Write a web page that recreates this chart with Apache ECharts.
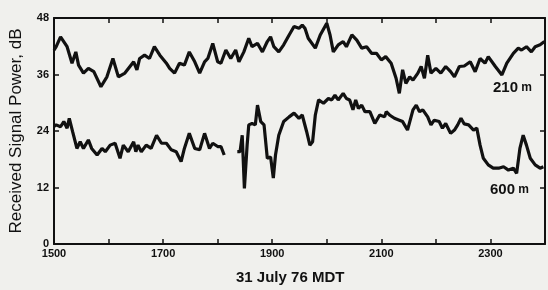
<!DOCTYPE html>
<html><head><meta charset="utf-8">
<script src="https://cdn.jsdelivr.net/npm/echarts@6/dist/echarts.min.js"></script>
<style>html,body{margin:0;padding:0;background:#f0f0ed;}#c{width:548px;height:290px;}</style>
</head><body><div id="c"></div>
<script>
// time in decimal hours (15 = 1500 MDT), values in dB
var t210 = [15.00,15.04,15.12,15.24,15.33,15.40,15.45,15.54,15.63,15.73,15.86,15.97,16.08,16.18,16.30,16.46,16.52,16.57,16.66,16.75,16.84,16.94,17.06,17.12,17.21,17.30,17.39,17.48,17.58,17.67,17.76,17.82,17.91,18.00,18.06,18.15,18.24,18.33,18.39,18.48,18.57,18.63,18.73,18.82,18.91,18.97,19.03,19.12,19.21,19.31,19.40,19.49,19.55,19.60,19.66,19.79,19.88,20.00,20.06,20.12,20.21,20.30,20.36,20.46,20.55,20.64,20.73,20.82,20.91,21.00,21.08,21.18,21.27,21.33,21.39,21.45,21.52,21.58,21.67,21.73,21.79,21.85,21.91,22.00,22.09,22.18,22.27,22.34,22.43,22.52,22.63,22.72,22.81,22.90,22.96,23.09,23.21,23.30,23.42,23.51,23.57,23.66,23.75,23.82,23.91,23.99];
var p210 = [41.2,41.9,44.0,41.9,38.4,40.8,38.0,36.3,37.3,36.6,33.4,35.5,39.4,35.5,36.3,38.7,37.0,39.4,40.1,39.4,41.9,40.1,38.4,37.3,36.3,38.4,38.0,40.8,38.7,36.3,38.7,39.4,42.6,38.7,38.4,41.2,39.4,41.2,38.7,40.8,43.7,41.9,42.6,40.8,43.0,44.0,41.9,40.8,42.3,44.4,46.2,45.8,46.5,45.8,43.7,41.6,44.4,46.9,44.4,40.8,42.3,43.0,41.9,44.4,43.3,41.6,41.9,40.5,40.5,39.1,39.8,38.4,35.2,32.0,37.0,34.1,35.5,34.8,36.3,37.7,35.2,40.1,36.3,37.3,36.3,37.7,36.6,35.5,37.7,37.8,38.7,36.6,39.4,38.4,39.8,37.7,35.9,38.4,40.5,41.6,41.2,41.9,40.8,41.9,42.3,43.0];

var t600 = [15.00,15.04,15.12,15.18,15.24,15.28,15.34,15.42,15.48,15.54,15.63,15.69,15.79,15.88,15.94,16.03,16.12,16.21,16.27,16.36,16.46,16.50,16.54,16.60,16.69,16.78,16.88,16.97,17.06,17.15,17.24,17.33,17.39,17.48,17.58,17.67,17.76,17.85,17.91,18.00,18.06,18.12,18.24,18.36,18.41,18.45,18.49,18.54,18.57,18.63,18.69,18.73,18.79,18.85,18.91,18.97,19.02,19.06,19.12,19.21,19.31,19.40,19.49,19.55,19.63,19.69,19.74,19.79,19.85,19.94,20.03,20.09,20.15,20.21,20.30,20.36,20.42,20.48,20.53,20.58,20.64,20.70,20.79,20.88,20.97,21.06,21.09,21.15,21.24,21.33,21.39,21.48,21.58,21.64,21.70,21.76,21.85,21.91,21.97,22.06,22.12,22.18,22.27,22.34,22.40,22.46,22.52,22.60,22.69,22.75,22.81,22.87,22.96,23.05,23.15,23.24,23.33,23.42,23.48,23.54,23.60,23.66,23.73,23.82,23.91,23.97];
var p600 = [25.0,25.3,24.9,26.0,24.6,26.7,23.9,20.3,21.7,20.3,22.1,20.3,18.9,20.3,19.6,21.0,21.4,18.2,21.0,19.6,21.7,19.6,21.0,19.6,21.0,20.3,23.1,21.4,21.4,20.0,19.6,17.5,20.3,23.5,20.3,20.0,23.5,20.3,21.4,20.7,20.7,18.9,null,19.6,19.6,23.1,11.8,21.0,25.3,25.6,25.3,29.5,26.0,25.3,18.2,18.5,14.0,18.9,23.1,26.0,27.0,27.8,26.7,27.4,23.9,21.0,21.7,27.4,30.6,29.9,30.9,30.6,31.6,30.6,32.0,30.9,30.6,28.5,30.6,28.8,29.5,28.1,28.1,25.6,27.4,27.0,28.1,27.4,26.7,26.3,26.0,24.2,28.5,29.5,28.1,28.5,27.0,25.3,26.3,26.0,24.6,25.6,23.5,24.2,25.3,26.7,25.5,25.3,24.2,24.6,21.0,18.2,16.8,16.1,16.1,16.4,15.7,16.1,15.0,20.3,23.1,21.0,18.2,16.8,16.1,16.4];

var yTicks = [0, 12, 24, 36, 48];
var xLabelHours = [15, 17, 19, 21, 23];

function pairs(t, p) { return t.map(function (x, i) { return [x, p[i] === null ? '-' : p[i]]; }); }

var chart = echarts.init(document.getElementById('c'), null, {renderer: 'canvas'});
var tickFont = {fontFamily: 'Liberation Sans Narrow, Liberation Sans, Arial', fontWeight: 'bold', fontSize: 11, color: '#111'};
var axisLine = {show: true, onZero: false, lineStyle: {color: '#111', width: 2}};
var tick = {show: true, inside: true, length: 5, lineStyle: {color: '#111', width: 1.5}};
chart.setOption({
  backgroundColor: '#f0f0ed',
  animation: false,
  grid: {left: 52, right: 3, top: 18, bottom: 46},
  xAxis: [{
    type: 'value', min: 15, max: 24, interval: 1, position: 'bottom',
    axisLine: axisLine, axisTick: tick,
    axisLabel: Object.assign({margin: 4, formatter: function (v) { return xLabelHours.indexOf(v) >= 0 ? (v * 100) + '' : ''; }}, tickFont),
    splitLine: {show: false}
  }, {
    type: 'value', min: 15, max: 24, interval: 1, position: 'top',
    axisLine: axisLine, axisTick: tick,
    axisLabel: {show: false}, splitLine: {show: false}
  }],
  yAxis: [{
    type: 'value', min: 0, max: 48, interval: 12, position: 'left',
    axisLine: axisLine, axisTick: tick,
    axisLabel: Object.assign({margin: 5, formatter: function (v) { return yTicks.indexOf(v) >= 0 ? v + '' : ''; }}, tickFont),
    splitLine: {show: false},
    name: 'Received Signal Power, dB', nameLocation: 'middle', nameGap: 29,
    nameTextStyle: {fontFamily: 'Liberation Sans, Arial', fontSize: 17, color: '#111'}
  }, {
    type: 'value', min: 0, max: 48, interval: 12, position: 'right',
    axisLine: axisLine, axisTick: tick,
    axisLabel: {show: false}, splitLine: {show: false}
  }],
  series: [{
    type: 'line', name: '210 m', data: pairs(t210, p210), showSymbol: false,
    lineStyle: {color: '#111', width: 3.2}, xAxisIndex: 0, yAxisIndex: 0
  }, {
    type: 'line', name: '600 m', data: pairs(t600, p600), showSymbol: false, connectNulls: false,
    lineStyle: {color: '#111', width: 3.2}, xAxisIndex: 0, yAxisIndex: 0
  }],
  graphic: [
    {type: 'text', left: 236, top: 270, style: {text: '31 July 76 MDT', font: 'bold 15px "Liberation Sans", Arial', fill: '#111'}},
    {type: 'text', left: 493, top: 80, style: {text: '{a|210}{b| m}', rich: {a: {font: 'bold 15px "Liberation Sans", Arial', fill: '#111'}, b: {font: 'bold 12px "Liberation Sans", Arial', fill: '#111'}}}},
    {type: 'text', left: 490, top: 182, style: {text: '{a|600}{b| m}', rich: {a: {font: 'bold 15px "Liberation Sans", Arial', fill: '#111'}, b: {font: 'bold 12px "Liberation Sans", Arial', fill: '#111'}}}}
  ]
});
</script></body></html>
